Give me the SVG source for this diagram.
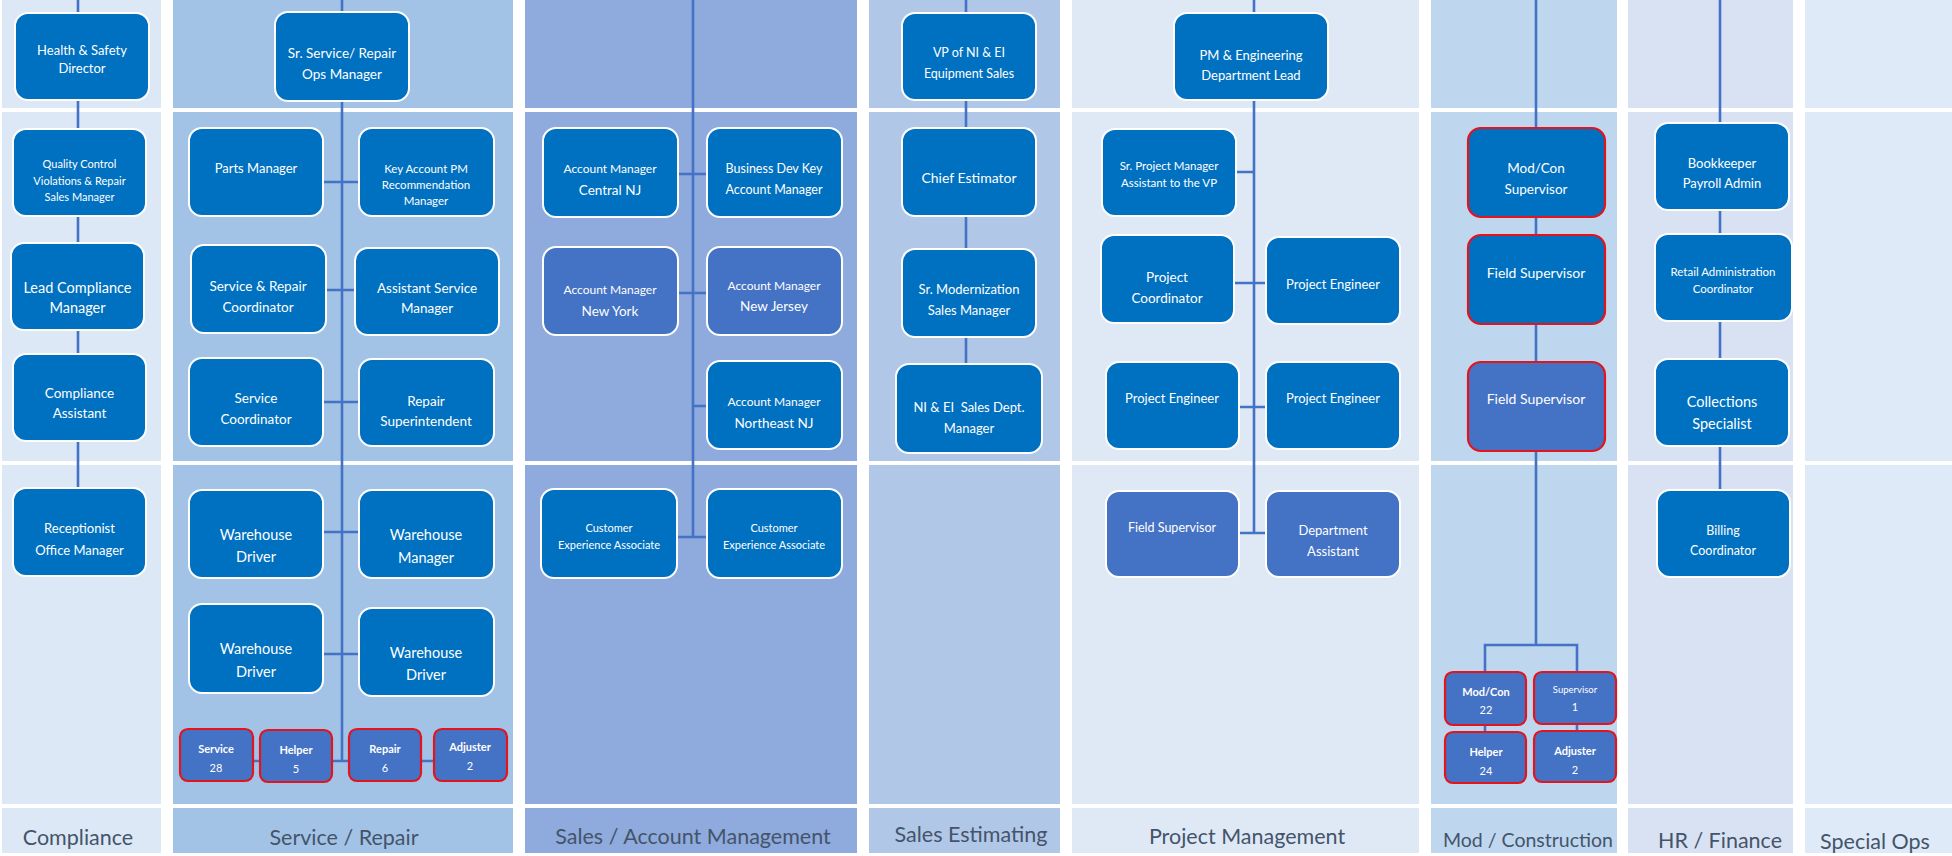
<svg xmlns="http://www.w3.org/2000/svg" width="1952" height="856" viewBox="0 0 1952 856">
<defs>
<style>
.lane{stroke:none}
.div{stroke:#ffffff;stroke-width:4}
.c{stroke:#4472c4;stroke-width:2.6;fill:none}
.n rect{fill:#0070c0;stroke:#ffffff;stroke-width:2}
.n.l rect{fill:#4472c4}
.n.r rect{stroke:#e5141b;stroke-width:2.2}
.n text{font-family:Lato,"Open Sans","Liberation Sans",sans-serif;fill:#ffffff;text-anchor:middle;dominant-baseline:central}
.b{font-weight:bold}
.lbl{font-family:Lato,"Open Sans","Liberation Sans",sans-serif;font-size:21.5px;fill:#44546a;text-anchor:middle;dominant-baseline:central}
.lbl.sm{font-size:19.5px}
</style>
</defs>
<rect width="1952" height="856" fill="#ffffff"/>
<g id="lanes">
<rect class="lane" x="2" y="0" width="159" height="853" fill="#dce8f5"/>
<rect class="lane" x="173" y="0" width="340" height="853" fill="#a3c3e6"/>
<rect class="lane" x="525" y="0" width="332" height="853" fill="#8faadc"/>
<rect class="lane" x="869" y="0" width="191" height="853" fill="#b1c7e8"/>
<rect class="lane" x="1072" y="0" width="347" height="853" fill="#dfe9f6"/>
<rect class="lane" x="1431" y="0" width="186" height="853" fill="#bed7ef"/>
<rect class="lane" x="1628" y="0" width="165" height="853" fill="#d9e2f3"/>
<rect class="lane" x="1805" y="0" width="147" height="853" fill="#deeaf7"/>
</g>
<g id="dividers">
<line class="div" x1="0" y1="110" x2="1952" y2="110"/>
<line class="div" x1="0" y1="463" x2="1952" y2="463"/>
<line class="div" x1="0" y1="806" x2="1952" y2="806"/>
</g>
<g id="connectors">
<path class="c" d="M78,0 V488"/>
<path class="c" d="M342,0 V761 M323,182 H359 M326,290 H355 M323,402 H359 M323,532 H359 M323,654 H359 M253,761 H434"/>
<path class="c" d="M693,0 V537 M678,174 H707 M678,293 H707 M693,406 H707 M677,537 H707"/>
<path class="c" d="M966,0 V364"/>
<path class="c" d="M1254,0 V533 M1236,172 H1254 M1234,283 H1266 M1239,407 H1266 M1239,533 H1266"/>
<path class="c" d="M1536,0 V645 M1485,732 V645 H1577 V731"/>
<path class="c" d="M1720,0 V490"/>
</g>

<g id="n-health" class="n"><rect x="15" y="13" width="134" height="87" rx="13"/><text x="82" y="50" font-size="13">Health &amp; Safety</text><text x="82" y="68" font-size="13">Director</text></g>
<g id="n-qc" class="n"><rect x="13" y="129" width="133" height="87" rx="13"/><text x="79.5" y="163" font-size="11">Quality Control</text><text x="79.5" y="180" font-size="11">Violations &amp; Repair</text><text x="79.5" y="196" font-size="11">Sales Manager</text></g>
<g id="n-lead" class="n"><rect x="11" y="243" width="133" height="87" rx="13"/><text x="77.5" y="287" font-size="14.5">Lead Compliance</text><text x="77.5" y="307" font-size="14.5">Manager</text></g>
<g id="n-comp-asst" class="n"><rect x="13" y="354" width="133" height="87" rx="13"/><text x="79.5" y="393" font-size="13.5">Compliance</text><text x="79.5" y="413" font-size="13.5">Assistant</text></g>
<g id="n-recep" class="n"><rect x="13" y="488" width="133" height="88" rx="13"/><text x="79.5" y="528" font-size="13">Receptionist</text><text x="79.5" y="550" font-size="13">Office Manager</text></g>

<g id="n-sr-service" class="n"><rect x="275" y="12" width="134" height="89" rx="13"/><text x="342" y="53" font-size="13.5">Sr. Service/ Repair</text><text x="342" y="74" font-size="13.5">Ops Manager</text></g>
<g id="n-parts" class="n"><rect x="189" y="128" width="134" height="88" rx="13"/><text x="256" y="168" font-size="13">Parts Manager</text></g>
<g id="n-keyacct" class="n"><rect x="359" y="128" width="135" height="88" rx="13"/><text x="426" y="168" font-size="11.5">Key Account PM</text><text x="426" y="184" font-size="11.5">Recommendation</text><text x="426" y="200" font-size="11.5">Manager</text></g>
<g id="n-svc-repair-coord" class="n"><rect x="191" y="245" width="135" height="88" rx="13"/><text x="258" y="286" font-size="13.5">Service &amp; Repair</text><text x="258" y="307" font-size="13.5">Coordinator</text></g>
<g id="n-asst-svc-mgr" class="n"><rect x="355" y="248" width="144" height="87" rx="13"/><text x="427" y="288" font-size="13.5">Assistant Service</text><text x="427" y="308" font-size="13.5">Manager</text></g>
<g id="n-svc-coord" class="n"><rect x="189" y="358" width="134" height="88" rx="13"/><text x="256" y="398" font-size="13.5">Service</text><text x="256" y="419" font-size="13.5">Coordinator</text></g>
<g id="n-repair-supt" class="n"><rect x="359" y="359" width="135" height="87" rx="13"/><text x="426" y="401" font-size="13.5">Repair</text><text x="426" y="421" font-size="13.5">Superintendent</text></g>
<g id="n-wh-driver1" class="n"><rect x="189" y="490" width="134" height="88" rx="13"/><text x="256" y="534" font-size="14.5">Warehouse</text><text x="256" y="556" font-size="14.5">Driver</text></g>
<g id="n-wh-mgr" class="n"><rect x="359" y="490" width="135" height="88" rx="13"/><text x="426" y="534" font-size="14.5">Warehouse</text><text x="426" y="557" font-size="14.5">Manager</text></g>
<g id="n-wh-driver2" class="n"><rect x="189" y="604" width="134" height="89" rx="13"/><text x="256" y="648" font-size="14.5">Warehouse</text><text x="256" y="671" font-size="14.5">Driver</text></g>
<g id="n-wh-driver3" class="n"><rect x="359" y="608" width="135" height="88" rx="13"/><text x="426" y="652" font-size="14.5">Warehouse</text><text x="426" y="674" font-size="14.5">Driver</text></g>
<g id="n-service28" class="n l r"><rect x="180" y="729" width="73" height="52" rx="8"/><text class="b" x="216" y="748" font-size="11">Service</text><text x="216" y="767" font-size="11">28</text></g>
<g id="n-helper5" class="n l r"><rect x="260" y="730" width="72" height="52" rx="8"/><text class="b" x="296" y="749" font-size="11">Helper</text><text x="296" y="768" font-size="11">5</text></g>
<g id="n-repair6" class="n l r"><rect x="349" y="729" width="72" height="52" rx="8"/><text class="b" x="385" y="748" font-size="11">Repair</text><text x="385" y="767" font-size="11">6</text></g>
<g id="n-adjuster2" class="n l r"><rect x="434" y="729" width="73" height="52" rx="8"/><text class="b" x="470" y="746" font-size="11">Adjuster</text><text x="470" y="765" font-size="11">2</text></g>

<g id="n-am-central" class="n"><rect x="543" y="128" width="135" height="89" rx="13"/><text x="610" y="168" font-size="12">Account Manager</text><text x="610" y="190" font-size="13.5">Central NJ</text></g>
<g id="n-bizdev" class="n"><rect x="707" y="128" width="135" height="89" rx="13"/><text x="774" y="168" font-size="12.5">Business Dev Key</text><text x="774" y="189" font-size="12.5">Account Manager</text></g>
<g id="n-am-ny" class="n l"><rect x="543" y="247" width="135" height="88" rx="13"/><text x="610" y="289" font-size="12">Account Manager</text><text x="610" y="311" font-size="13.5">New York</text></g>
<g id="n-am-nj" class="n l"><rect x="707" y="247" width="135" height="88" rx="13"/><text x="774" y="285" font-size="12">Account Manager</text><text x="774" y="306" font-size="13.5">New Jersey</text></g>
<g id="n-am-ne" class="n"><rect x="707" y="361" width="135" height="88" rx="13"/><text x="774" y="401" font-size="12">Account Manager</text><text x="774" y="423" font-size="13.5">Northeast NJ</text></g>
<g id="n-cea1" class="n"><rect x="541" y="489" width="136" height="89" rx="13"/><text x="609" y="527" font-size="11">Customer</text><text x="609" y="544" font-size="11">Experience Associate</text></g>
<g id="n-cea2" class="n"><rect x="707" y="489" width="135" height="89" rx="13"/><text x="774" y="527" font-size="11">Customer</text><text x="774" y="544" font-size="11">Experience Associate</text></g>

<g id="n-vp" class="n"><rect x="902" y="13" width="134" height="87" rx="13"/><text x="969" y="52" font-size="12.5">VP of NI &amp; EI</text><text x="969" y="73" font-size="12.5">Equipment Sales</text></g>
<g id="n-chief" class="n"><rect x="902" y="128" width="134" height="88" rx="13"/><text x="969" y="177" font-size="14">Chief Estimator</text></g>
<g id="n-srmod" class="n"><rect x="902" y="249" width="134" height="88" rx="13"/><text x="969" y="289" font-size="13">Sr. Modernization</text><text x="969" y="310" font-size="13">Sales Manager</text></g>
<g id="n-niei" class="n"><rect x="896" y="364" width="146" height="89" rx="13"/><text x="969" y="407" font-size="13" xml:space="preserve">NI &amp; EI  Sales Dept.</text><text x="969" y="428" font-size="13">Manager</text></g>

<g id="n-pm-lead" class="n"><rect x="1174" y="13" width="154" height="87" rx="13"/><text x="1251" y="55" font-size="13">PM &amp; Engineering</text><text x="1251" y="75" font-size="13">Department Lead</text></g>
<g id="n-srpm" class="n"><rect x="1102" y="129" width="134" height="87" rx="13"/><text x="1169" y="165" font-size="11.5">Sr. Project Manager</text><text x="1169" y="182" font-size="11.5">Assistant to the VP</text></g>
<g id="n-proj-coord" class="n"><rect x="1101" y="235" width="133" height="88" rx="13"/><text x="1167" y="277" font-size="13.5">Project</text><text x="1167" y="298" font-size="13.5">Coordinator</text></g>
<g id="n-pe1" class="n"><rect x="1266" y="237" width="134" height="87" rx="13"/><text x="1333" y="284" font-size="13">Project Engineer</text></g>
<g id="n-pe2" class="n"><rect x="1106" y="362" width="133" height="87" rx="13"/><text x="1172" y="398" font-size="13">Project Engineer</text></g>
<g id="n-pe3" class="n"><rect x="1266" y="362" width="134" height="87" rx="13"/><text x="1333" y="398" font-size="13">Project Engineer</text></g>
<g id="n-pm-field" class="n l"><rect x="1106" y="491" width="133" height="86" rx="13"/><text x="1172" y="527" font-size="12.5">Field Supervisor</text></g>
<g id="n-dept-asst" class="n l"><rect x="1266" y="491" width="134" height="86" rx="13"/><text x="1333" y="530" font-size="13">Department</text><text x="1333" y="551" font-size="13">Assistant</text></g>

<g id="n-modcon-sup" class="n r"><rect x="1468" y="128" width="137" height="89" rx="13"/><text x="1536" y="168" font-size="13.5">Mod/Con</text><text x="1536" y="189" font-size="13.5">Supervisor</text></g>
<g id="n-field1" class="n r"><rect x="1468" y="235" width="137" height="89" rx="13"/><text x="1536" y="272" font-size="14">Field Supervisor</text></g>
<g id="n-field2" class="n l r"><rect x="1468" y="362" width="137" height="89" rx="13"/><text x="1536" y="398" font-size="14">Field Supervisor</text></g>
<g id="n-modcon22" class="n l r"><rect x="1445" y="672" width="81" height="53" rx="8"/><text class="b" x="1486" y="691" font-size="11">Mod/Con</text><text x="1486" y="709" font-size="11">22</text></g>
<g id="n-sup1" class="n l r"><rect x="1534" y="672" width="82" height="52" rx="8"/><text x="1575" y="689" font-size="9.5">Supervisor</text><text x="1575" y="706" font-size="11">1</text></g>
<g id="n-helper24" class="n l r"><rect x="1445" y="732" width="81" height="51" rx="8"/><text class="b" x="1486" y="751" font-size="11">Helper</text><text x="1486" y="770" font-size="11">24</text></g>
<g id="n-adj2" class="n l r"><rect x="1534" y="731" width="82" height="51" rx="8"/><text class="b" x="1575" y="750" font-size="11">Adjuster</text><text x="1575" y="769" font-size="11">2</text></g>

<g id="n-bookkeeper" class="n"><rect x="1655" y="123" width="134" height="87" rx="13"/><text x="1722" y="163" font-size="13">Bookkeeper</text><text x="1722" y="183" font-size="13">Payroll Admin</text></g>
<g id="n-retail" class="n"><rect x="1655" y="234" width="137" height="87" rx="13"/><text x="1723" y="271" font-size="11.5">Retail Administration</text><text x="1723" y="288" font-size="11.5">Coordinator</text></g>
<g id="n-collections" class="n"><rect x="1655" y="359" width="134" height="87" rx="13"/><text x="1722" y="401" font-size="14.5">Collections</text><text x="1722" y="423" font-size="14.5">Specialist</text></g>
<g id="n-billing" class="n"><rect x="1657" y="490" width="133" height="87" rx="13"/><text x="1723" y="530" font-size="12.5">Billing</text><text x="1723" y="550" font-size="12.5">Coordinator</text></g>

<g id="lane-labels">
<text class="lbl" x="78" y="837">Compliance</text>
<text class="lbl" x="344" y="837">Service / Repair</text>
<text class="lbl" x="693" y="836">Sales / Account Management</text>
<text class="lbl" x="971" y="834">Sales Estimating</text>
<text class="lbl" x="1247" y="836">Project Management</text>
<text class="lbl sm" x="1528" y="839">Mod / Construction</text>
<text class="lbl" x="1720" y="840">HR / Finance</text>
<text class="lbl" x="1875" y="841">Special Ops</text>
</g>
</svg>
